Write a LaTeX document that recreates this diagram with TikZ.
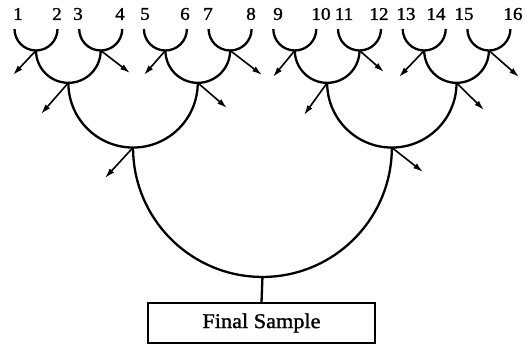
\documentclass[tikz,border=0pt]{standalone}
\usepackage{fontspec}
\setmainfont{Liberation Serif}
\newfontfamily\labelfont[FakeBold=1.3,FakeStretch=1.06]{Liberation Serif}
\usetikzlibrary{arrows.meta}
\tikzset{
  cup/.style={line width=2.3pt},
  outflow/.style={line width=1.6pt,-{Latex[length=10pt,width=6pt]}},
  leaf/.style={font=\labelfont\fontsize{18}{20}\selectfont, inner sep=0pt},
  samplebox/.style={draw, line width=1.5pt, minimum width=227pt, minimum height=40pt,
    inner sep=0pt, font=\labelfont\fontsize{21}{24}\selectfont}
}
\begin{document}
\begin{tikzpicture}[x=1pt,y=-1pt]
\useasboundingbox (0,0) rectangle (526,350);

% leaf labels
\foreach \n/\x in {1/18,2/57,3/78,4/120,5/145,6/185,7/208,8/251,
                   9/278,10/321,11/344,12/379,13/406,14/436,15/464,16/513}
  \node[leaf] (n\n) at (\x,14) {\n};

% junctions of the first merge level
\foreach \i/\x in {1/36,2/100.7,3/165.4,4/230.1,5/294.8,6/359.5,7/424.2,8/488.9}
  \coordinate (j\i) at (\x,50.5);
% second level
\foreach \i/\x in {1/68.35,2/197.75,3/327.15,4/456.55}
  \coordinate (k\i) at (\x,82.85);
% third level
\coordinate (l1) at (133.05,147.55);
\coordinate (l2) at (391.85,147.55);
% final merge
\coordinate (m) at (262.45,276.95);

% first level cups
\foreach \i in {1,...,8}
  \draw[cup] ([xshift=-21.5pt,yshift=21.5pt]j\i) arc[start angle=180,end angle=360,radius=21.5pt];
% second level
\draw[cup] (j1) arc[start angle=180,end angle=360,radius=32.35pt];
\draw[cup] (j3) arc[start angle=180,end angle=360,radius=32.35pt];
\draw[cup] (j5) arc[start angle=180,end angle=360,radius=32.35pt];
\draw[cup] (j7) arc[start angle=180,end angle=360,radius=32.35pt];
% third level
\draw[cup] (k1) arc[start angle=180,end angle=360,radius=64.7pt];
\draw[cup] (k3) arc[start angle=180,end angle=360,radius=64.7pt];
% final merge
\draw[cup] (l1) arc[start angle=180,end angle=360,radius=129.4pt];

% final sample
\node[samplebox] (fs) at (261.5,323) {Final Sample};
\draw[cup] (m) -- (fs.north);

% discarded portions
\foreach \s/\x/\y in {j1/13/75, j2/130/73, j3/144/75, j4/262/75,
                      j5/273/77, j6/384/72, j7/399/77, j8/519/77,
                      k1/41/114, k2/227/108, k3/304/115, k4/484/110,
                      l1/105/178, l2/423/172}
{
  \coordinate (e-\s) at (\x,\y);
  \draw[outflow] (\s) -- (e-\s);
}
\end{tikzpicture}
\end{document}
